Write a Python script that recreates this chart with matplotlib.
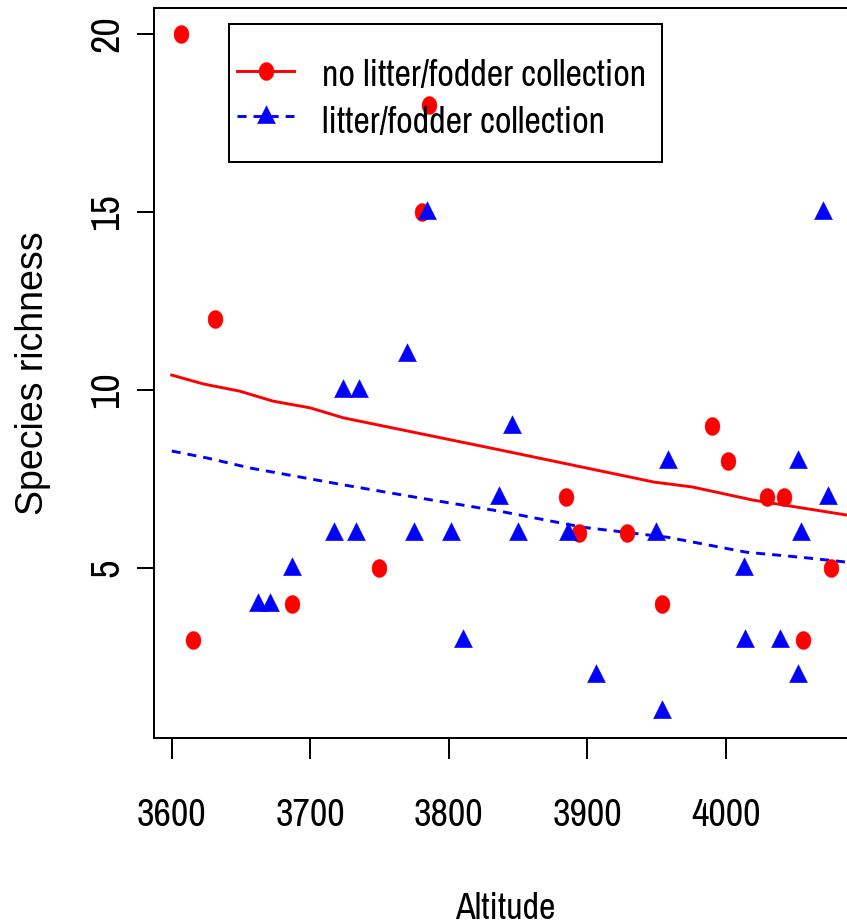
import matplotlib
matplotlib.use('Agg')
import matplotlib.pyplot as plt
import numpy as np
from matplotlib.path import Path
from matplotlib.lines import Line2D
from matplotlib.patches import Rectangle
from matplotlib import font_manager

REG = ['Liberation Sans', 'DejaVu Sans']
_names = {f.name for f in font_manager.fontManager.ttflist}
_cands = ['Archivo Narrow', 'Liberation Sans Narrow', 'Arial Narrow',
          'PT Sans Narrow', 'Roboto Condensed']
NARROW_NAME = next((c for c in _cands if c in _names), None)
NARROW = [NARROW_NAME, 'Liberation Sans'] if NARROW_NAME else REG

# ---------------- data ----------------
series_labels = ['no litter/fodder collection', 'litter/fodder collection']

no_coll_alt = [3607, 3615, 3631, 3687, 3750, 3781, 3786, 3885, 3894, 3929,
               3954, 3990, 4002, 4030, 4042, 4056, 4076]
no_coll_rich = [20, 3, 12, 4, 5, 15, 18, 7, 6, 6,
                4, 9, 8, 7, 7, 3, 5]

coll_alt = [3662, 3671, 3687, 3717, 3724, 3733, 3735, 3770, 3775, 3784,
            3802, 3810, 3836, 3846, 3850, 3886, 3906, 3950, 3954, 3958,
            4013, 4014, 4039, 4052, 4052, 4054, 4070, 4074]
coll_rich = [4, 4, 5, 6, 10, 6, 10, 11, 6, 15,
             6, 3, 7, 9, 6, 6, 2, 6, 1, 8,
             5, 3, 3, 2, 8, 6, 15, 7]

fit_no_alt = [3600, 3623, 3649, 3673, 3700, 3724, 3837, 3948, 3976, 4020, 4088]
fit_no_rich = [10.42, 10.17, 9.97, 9.69, 9.50, 9.22, 8.32, 7.42, 7.28, 6.91, 6.49]

fit_coll_alt = [3600, 3626, 3657, 3724, 3784, 3837, 3897, 3958, 4015, 4054, 4088]
fit_coll_rich = [8.29, 8.09, 7.81, 7.34, 6.94, 6.60, 6.15, 5.87, 5.45, 5.31, 5.17]

xticks = [3600, 3700, 3800, 3900, 4000]
xtick_labels = ['3600', '3700', '3800', '3900', '4000']
yticks = [5, 10, 15, 20]
ytick_labels = ['5', '10', '15', '20']

# ---------------- markers ----------------
t = np.linspace(0, 2 * np.pi, 64)
ell_verts = np.column_stack([0.83 * np.cos(t), np.sin(t)])
ellipse = Path(ell_verts)
triangle = Path([(-0.5, -0.4), (0.5, -0.4), (0.0, 0.6), (-0.5, -0.4)],
                [Path.MOVETO, Path.LINETO, Path.LINETO, Path.CLOSEPOLY])
CIRC_MS = 12.96
TRI_MS = 15.55
LW = 2.1
DASH = (0, (3.1, 2.4))

W, H = 847, 924
fig = plt.figure(figsize=(W / 100, H / 100), dpi=100)
ax = fig.add_axes([154 / W, (H - 738.3) / H, (857.3 - 154) / W, (738.3 - 8.3) / H])

ax.plot(fit_no_alt, fit_no_rich, color='red', lw=LW, zorder=2)
ax.plot(fit_coll_alt, fit_coll_rich, color='blue', lw=LW, ls=DASH, zorder=2)
ax.plot(no_coll_alt, no_coll_rich, ls='none', marker=ellipse, ms=CIRC_MS,
        mfc='red', mec='red', mew=0.3, zorder=3)
ax.plot(coll_alt, coll_rich, ls='none', marker=triangle, ms=TRI_MS,
        mfc='blue', mec='blue', mew=0.3, zorder=4)

ax.set_xlim(3587.2, 4095.0)
ax.set_ylim(0.23, 20.71)

ax.set_xticks(xticks, labels=xtick_labels, fontsize=27.5, family=NARROW)
ax.set_yticks(yticks, labels=ytick_labels, fontsize=29, family=NARROW,
              rotation=90, va='center')
ax.tick_params(axis='x', direction='out', length=15, width=1.44, pad=28)
ax.tick_params(axis='y', direction='out', length=12.2, width=1.44, pad=8.6)

for s in ['left', 'bottom', 'top']:
    ax.spines[s].set_linewidth(1.44)
ax.spines['right'].set_visible(False)

def fx(px):
    return px / W

def fy(py):
    return 1 - py / H

ax.set_xlabel('Altitude', fontsize=26, family=NARROW, va='baseline')
ax.xaxis.set_label_coords(fx(505.5), fy(919), transform=fig.transFigure)
ax.set_ylabel('Species richness', fontsize=27, family=REG, labelpad=27)

# ---------------- legend (drawn manually) ----------------
fig.add_artist(Rectangle((fx(229.3), fy(161.7)), fx(662.3) - fx(229.3),
                         fy(24.3) - fy(161.7), transform=fig.transFigure,
                         fill=False, ec='black', lw=1.44))
rows = [(70.7, 86.0, 'red', '-', ellipse, CIRC_MS),
        (115.7, 133.0, 'blue', DASH, triangle, TRI_MS)]
for (ry, by, col, ls, mk, ms), lab in zip(rows, series_labels):
    fig.add_artist(Line2D([fx(237), fx(294)], [fy(ry), fy(ry)],
                          transform=fig.transFigure, color=col, lw=LW, ls=ls))
    fig.add_artist(Line2D([fx(265.5)], [fy(ry)], transform=fig.transFigure,
                          ls='none', marker=mk, ms=ms, mfc=col, mec=col, mew=0.3))
    fig.text(fx(321.7), fy(by), lab, fontsize=26, family=NARROW, va='baseline')

fig.savefig('out.png', dpi=100)
